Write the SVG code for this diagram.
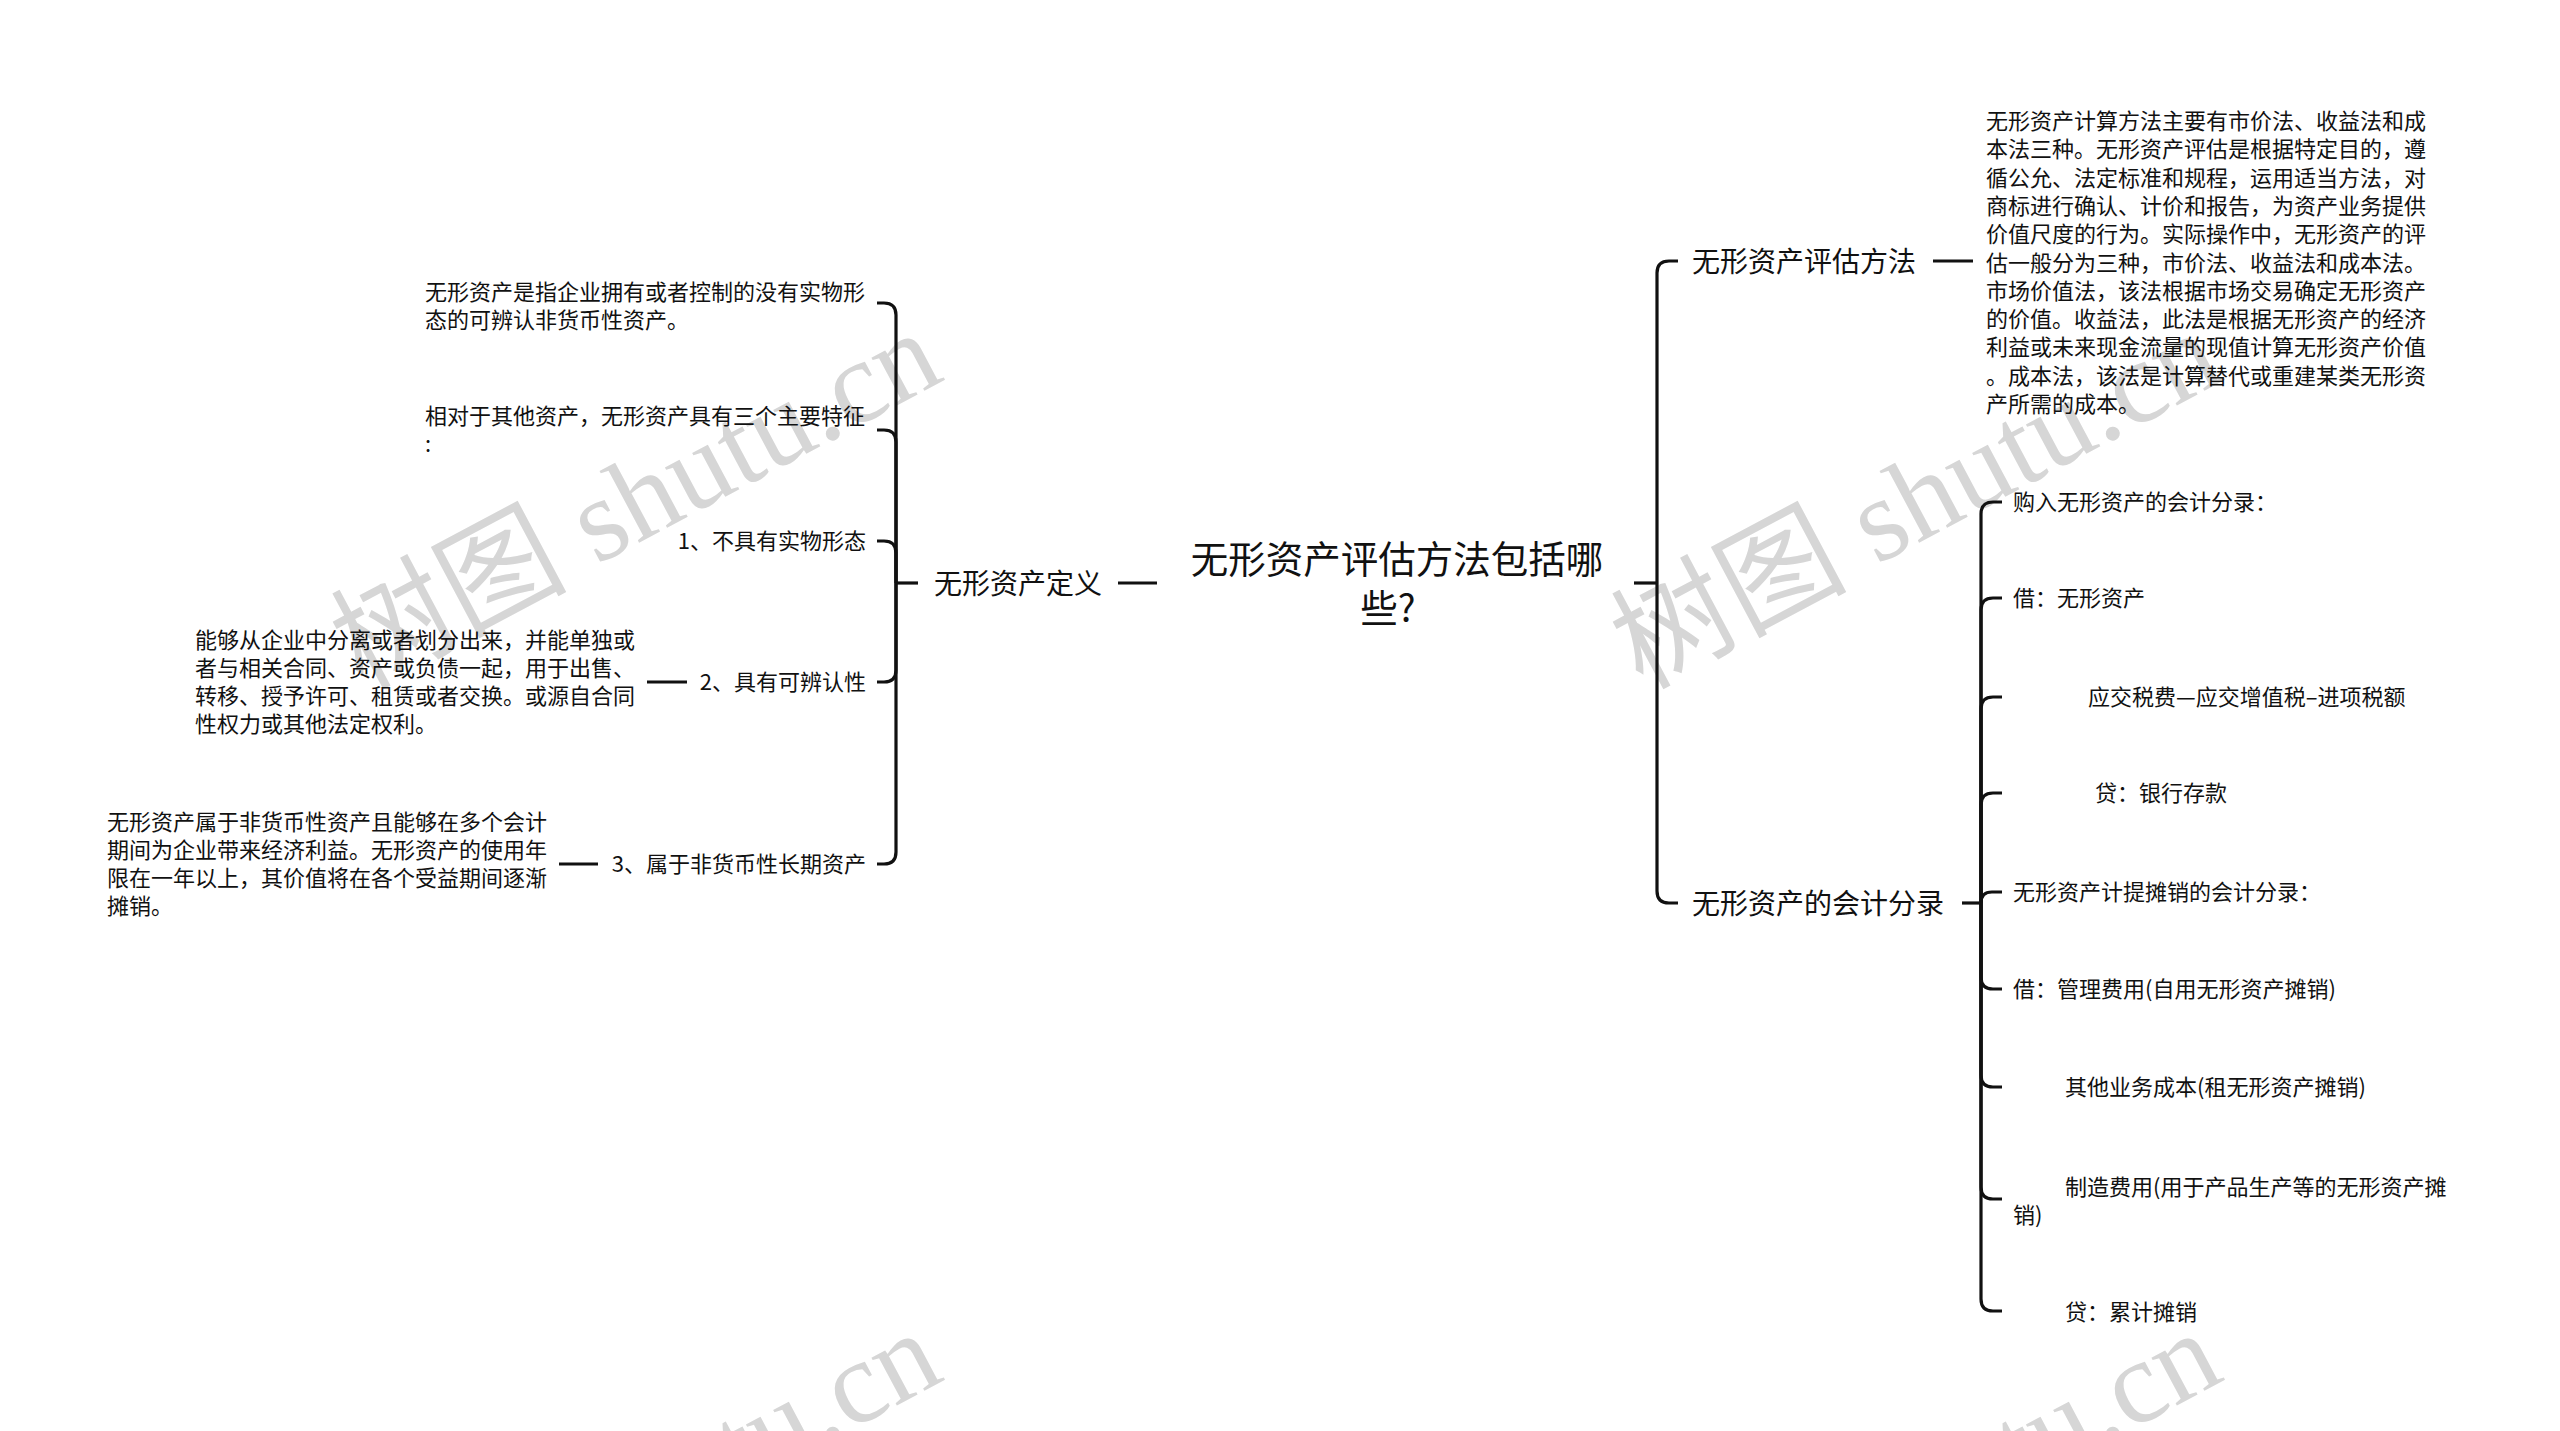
<svg xmlns="http://www.w3.org/2000/svg" width="2560" height="1431" viewBox="0 0 2560 1431">
<style>
.t{font-family:"Noto Sans CJK SC","Noto Sans",sans-serif;fill:#111}
.s22{font-size:22px}
.s28{font-size:28px}
.s38{font-size:37.5px}
.c{fill:none;stroke:#111;stroke-width:3.2}
.wm{font-family:"Liberation Serif","Noto Sans CJK SC",serif;font-size:118px;fill:#d6d6d6}
</style>
<rect width="2560" height="1431" fill="#fff"/>
<g id="watermark">
<text class="wm" transform="translate(362 690) rotate(-28)">树图 shutu.cn</text>
<text class="wm" transform="translate(1642 690) rotate(-28)">树图 shutu.cn</text>
<text class="wm" transform="translate(362 1690) rotate(-28)">树图 shutu.cn</text>
<text class="wm" transform="translate(1642 1690) rotate(-28)">树图 shutu.cn</text>
</g>
<g id="connectors">
<path class="c" d="M1157 583H1118"/>
<path class="c" d="M918 583H896"/>
<path class="c" d="M896 583V315Q896 303 884 303H877"/>
<path class="c" d="M896 583V442Q896 430 884 430H877"/>
<path class="c" d="M896 583V553Q896 541 884 541H877"/>
<path class="c" d="M896 583V670Q896 682 884 682H877"/>
<path class="c" d="M896 583V852Q896 864 884 864H877"/>
<path class="c" d="M687 682H647"/>
<path class="c" d="M598 864H559"/>
<path class="c" d="M1634 583H1657"/>
<path class="c" d="M1657 583V273Q1657 261 1669 261H1678"/>
<path class="c" d="M1657 583V891Q1657 903 1669 903H1678"/>
<path class="c" d="M1933 261H1973"/>
<path class="c" d="M1962 903H1981"/>
<path class="c" d="M1981 903V514Q1981 502 1993 502H2002"/>
<path class="c" d="M1981 903V610Q1981 598 1993 598H2002"/>
<path class="c" d="M1981 903V709Q1981 697 1993 697H2002"/>
<path class="c" d="M1981 903V805Q1981 793 1993 793H2002"/>
<path class="c" d="M1981 903Q1981 892 1992 892H2002"/>
<path class="c" d="M1981 903V977Q1981 989 1993 989H2002"/>
<path class="c" d="M1981 903V1075Q1981 1087 1993 1087H2002"/>
<path class="c" d="M1981 903V1187Q1981 1199 1993 1199H2002"/>
<path class="c" d="M1981 903V1299Q1981 1311 1993 1311H2002"/>
</g>
<g id="root">
<text class="t s38" x="1397" y="573" text-anchor="middle">无形资产评估方法包括哪</text>
<text class="t s38" x="1388" y="622" text-anchor="middle">些?</text>
</g>
<g id="n-def">
<text class="t s28" x="934" y="594">无形资产定义</text>
</g>
<g id="n-def-1">
<text class="t s22" x="425" y="300">无形资产是指企业拥有或者控制的没有实物形</text>
<text class="t s22" x="425" y="328">态的可辨认非货币性资产。</text>
</g>
<g id="n-def-2">
<text class="t s22" x="425" y="424">相对于其他资产，无形资产具有三个主要特征</text>
<text class="t s22" x="425" y="452">:</text>
</g>
<g id="n-def-3">
<text class="t s22" x="866" y="549" text-anchor="end">1、不具有实物形态</text>
</g>
<g id="n-def-4">
<text class="t s22" x="866" y="690" text-anchor="end">2、具有可辨认性</text>
</g>
<g id="n-def-4-1">
<text class="t s22" x="195" y="648">能够从企业中分离或者划分出来，并能单独或</text>
<text class="t s22" x="195" y="676">者与相关合同、资产或负债一起，用于出售、</text>
<text class="t s22" x="195" y="704">转移、授予许可、租赁或者交换。或源自合同</text>
<text class="t s22" x="195" y="732">性权力或其他法定权利。</text>
</g>
<g id="n-def-5">
<text class="t s22" x="866" y="872" text-anchor="end">3、属于非货币性长期资产</text>
</g>
<g id="n-def-5-1">
<text class="t s22" x="107" y="830">无形资产属于非货币性资产且能够在多个会计</text>
<text class="t s22" x="107" y="858">期间为企业带来经济利益。无形资产的使用年</text>
<text class="t s22" x="107" y="886">限在一年以上，其价值将在各个受益期间逐渐</text>
<text class="t s22" x="107" y="914">摊销。</text>
</g>
<g id="n-method">
<text class="t s28" x="1692" y="272">无形资产评估方法</text>
</g>
<g id="n-method-1">
<text class="t s22" x="1986" y="129">无形资产计算方法主要有市价法、收益法和成</text>
<text class="t s22" x="1986" y="157.3">本法三种。无形资产评估是根据特定目的，遵</text>
<text class="t s22" x="1986" y="185.6">循公允、法定标准和规程，运用适当方法，对</text>
<text class="t s22" x="1986" y="213.9">商标进行确认、计价和报告，为资产业务提供</text>
<text class="t s22" x="1986" y="242.2">价值尺度的行为。实际操作中，无形资产的评</text>
<text class="t s22" x="1986" y="270.5">估一般分为三种，市价法、收益法和成本法。</text>
<text class="t s22" x="1986" y="298.8">市场价值法，该法根据市场交易确定无形资产</text>
<text class="t s22" x="1986" y="327.1">的价值。收益法，此法是根据无形资产的经济</text>
<text class="t s22" x="1986" y="355.4">利益或未来现金流量的现值计算无形资产价值</text>
<text class="t s22" x="1986" y="383.7">。成本法，该法是计算替代或重建某类无形资</text>
<text class="t s22" x="1986" y="412">产所需的成本。</text>
</g>
<g id="n-entry">
<text class="t s28" x="1692" y="914">无形资产的会计分录</text>
</g>
<g id="n-entry-1"><text class="t s22" x="2013" y="510">购入无形资产的会计分录：</text></g>
<g id="n-entry-2"><text class="t s22" x="2013" y="606">借：无形资产</text></g>
<g id="n-entry-3"><text class="t s22" x="2088" y="705">应交税费—应交增值税–进项税额</text></g>
<g id="n-entry-4"><text class="t s22" x="2095" y="801">贷：银行存款</text></g>
<g id="n-entry-5"><text class="t s22" x="2013" y="900">无形资产计提摊销的会计分录：</text></g>
<g id="n-entry-6"><text class="t s22" x="2013" y="997">借：管理费用(自用无形资产摊销)</text></g>
<g id="n-entry-7"><text class="t s22" x="2065" y="1095">其他业务成本(租无形资产摊销)</text></g>
<g id="n-entry-8">
<text class="t s22" x="2065" y="1195">制造费用(用于产品生产等的无形资产摊</text>
<text class="t s22" x="2013" y="1223">销)</text>
</g>
<g id="n-entry-9"><text class="t s22" x="2065" y="1320">贷：累计摊销</text></g>
</svg>
